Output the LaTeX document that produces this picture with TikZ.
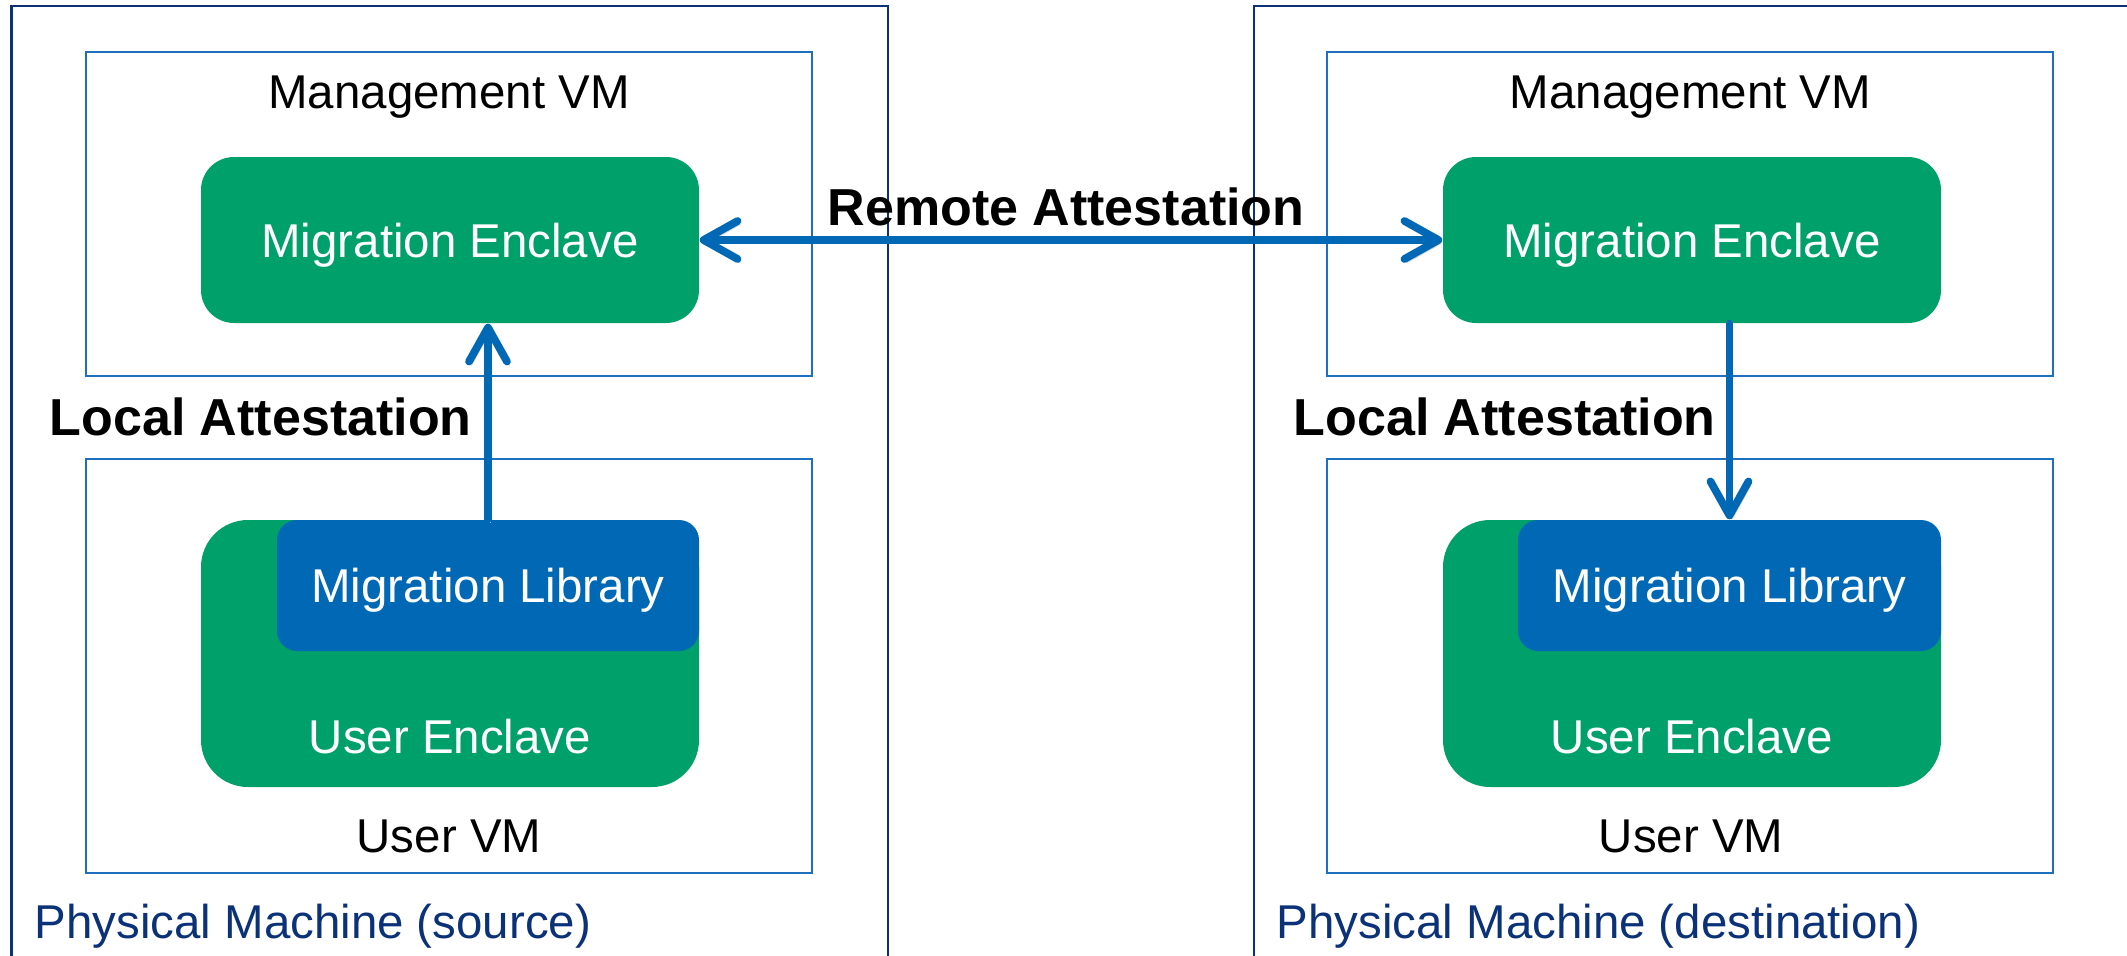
\documentclass[tikz,border=0pt]{standalone}
\usepackage{fontspec}
\setmainfont{Liberation Sans}
\usetikzlibrary{arrows.meta}
\definecolor{encgreen}{HTML}{00A06A}
\definecolor{libblue}{HTML}{0068B4}
\definecolor{boxblue}{HTML}{1F6FBF}
\definecolor{navy}{HTML}{0B3278}
\tikzset{
  vmbox/.style={draw=boxblue, line width=0.6pt, rectangle, minimum width=7.26cm, inner sep=0pt},
  enclave/.style={fill=encgreen, rectangle, rounded corners=0.33cm, minimum width=4.98cm, minimum height=1.66cm,
    inner sep=0pt, text=white, font=\fontsize{13.5}{16}\selectfont, text height=0.34cm, text depth=0pt},
  userenc/.style={fill=encgreen, rectangle, rounded corners=0.47cm, minimum width=4.98cm, minimum height=2.67cm, inner sep=0pt},
  library/.style={fill=libblue, rectangle, rounded corners=0.2cm, minimum height=1.31cm,
    inner sep=0pt, text=white, font=\fontsize{13.5}{16}\selectfont, text height=0.34cm, text depth=0pt},
  plain/.style={font=\fontsize{13.5}{16}\selectfont, inner sep=0pt, anchor=base},
  bold/.style={font=\fontsize{14.8}{18}\selectfont\bfseries, inner sep=0pt},
  machine/.style={font=\fontsize{13.5}{16}\selectfont, text=navy, inner sep=0pt, anchor=base west},
  frame/.style={draw=navy, line width=0.7pt},
  arr/.style={draw=libblue, line width=2.2pt, line cap=round,
    preaction={draw=black!15, transform canvas={xshift=0.7pt,yshift=-1pt}}},
  >={Straight Barb[length=0.34cm,width=0.38cm,round]}
}
\begin{document}
\begin{tikzpicture}
\useasboundingbox (0,0) rectangle (21.27,-9.55);
% physical machine frames
\draw[frame] (0.115,-9.6) -- (0.115,-0.06) -- (8.88,-0.06) -- (8.88,-9.6);
\draw[frame] (12.54,-9.6) -- (12.54,-0.06) -- (21.4,-0.06);
% VM boxes
\node[vmbox, minimum height=3.24cm] (mgL) at (4.49,-2.14) {};
\node[vmbox, minimum height=4.14cm] (uvL) at (4.49,-6.66) {};
\node[vmbox, minimum height=3.24cm] (mgR) at (16.90,-2.14) {};
\node[vmbox, minimum height=4.14cm] (uvR) at (16.90,-6.66) {};
% VM labels
\node[plain] (mgLt) at (4.49,-1.08) {Management VM};
\node[plain] (mgRt) at (16.905,-1.08) {Management VM};
\node[plain] (uvLt) at (4.49,-8.52) {User VM};
\node[plain] (uvRt) at (16.91,-8.52) {User VM};
% enclaves
\node[enclave] (encL) at (4.50,-2.40) {Migration Enclave};
\node[enclave] (encR) at (16.92,-2.40) {Migration Enclave};
\node[userenc] (ueL) at (4.50,-6.535) {};
\node[userenc] (ueR) at (16.92,-6.535) {};
\node[library, minimum width=4.22cm] (libL) at (4.88,-5.855) {Migration Library};
\node[library, minimum width=4.23cm] (libR) at (17.295,-5.855) {Migration Library};
\node[plain, text=white] (ueLt) at (4.50,-7.53) {User Enclave};
\node[plain, text=white] (ueRt) at (16.92,-7.53) {User Enclave};
% arrows
\draw[arr, <->] (encL.east) -- (encR.west);
\draw[arr, ->] (libL.north) -- (libL.north |- encL.south);
\draw[arr, ->] (libR.north |- encR.south) -- (libR.north);
% arrow labels
\node[bold, anchor=base] (remote) at (10.66,-2.25) {Remote Attestation};
\node[bold, anchor=base west] (localL) at (0.49,-4.35) {Local Attestation};
\node[bold, anchor=base west] (localR) at (12.93,-4.35) {Local Attestation};
% machine labels
\node[machine] (pmL) at (0.34,-9.38) {Physical Machine (source)};
\node[machine] (pmR) at (12.76,-9.38) {Physical Machine (destination)};
\end{tikzpicture}
\end{document}
